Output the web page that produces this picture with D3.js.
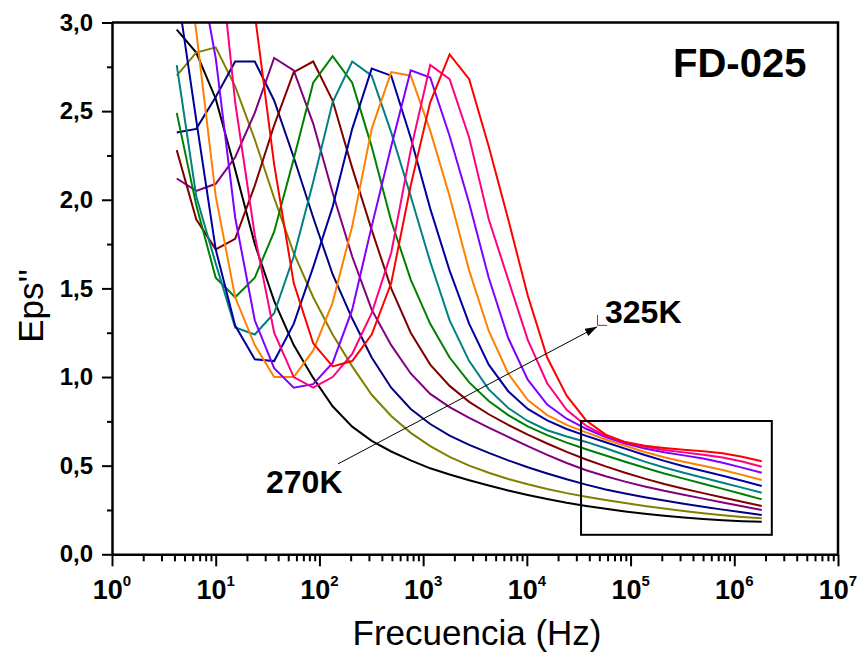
<!DOCTYPE html>
<html>
<head>
<meta charset="utf-8">
<script src="https://cdn.jsdelivr.net/npm/d3@7"></script>
<style>
  body { margin: 0; background: #fff; }
  svg { display: block; }
</style>
</head>
<body>
<svg id="chart" width="860" height="660"></svg>
<script>
// Measurement frequencies (Hz), log-spaced sweep
const freq = [4.21, 6.49, 10.0, 15.4, 23.8, 36.6, 56.5, 87.1, 134, 207, 319, 492, 759,
  1170, 1800, 2780, 4290, 6610, 10200, 15700, 24200, 37300, 57500, 88700, 137000,
  211000, 325000, 501000, 773000, 1190000, 1840000];

// Temperatures and line colours
const temps = ["270K", "275K", "280K", "285K", "290K", "295K", "300K", "305K", "310K", "315K", "320K", "325K"];
const colors = ["#000000", "#808000", "#000080", "#800080", "#800000", "#008000",
  "#008080", "#0000A0", "#FF8000", "#8000FF", "#FF0080", "#FF0000"];

// Dielectric loss Eps'' for each temperature
const eps270 = [2.96, 2.83, 2.57, 2.17, 1.75, 1.43, 1.18, 0.995, 0.835, 0.72, 0.64, 0.58, 0.53, 0.485, 0.45, 0.418, 0.388, 0.36, 0.335, 0.312, 0.291, 0.273, 0.257, 0.242, 0.229, 0.217, 0.207, 0.199, 0.192, 0.187, 0.184];
const eps275 = [2.70, 2.83, 2.86, 2.64, 2.34, 2.01, 1.70, 1.45, 1.24, 1.06, 0.90, 0.78, 0.685, 0.61, 0.55, 0.50, 0.46, 0.425, 0.395, 0.368, 0.345, 0.325, 0.306, 0.289, 0.273, 0.258, 0.244, 0.231, 0.22, 0.211, 0.203];
const eps280 = [2.38, 2.40, 2.58, 2.78, 2.78, 2.56, 2.24, 1.90, 1.58, 1.33, 1.11, 0.94, 0.82, 0.735, 0.67, 0.617, 0.572, 0.53, 0.491, 0.456, 0.423, 0.393, 0.366, 0.343, 0.322, 0.303, 0.285, 0.268, 0.252, 0.237, 0.222];
const eps285 = [2.12, 2.05, 2.09, 2.24, 2.49, 2.80, 2.73, 2.43, 2.04, 1.68, 1.38, 1.18, 1.02, 0.905, 0.83, 0.77, 0.715, 0.662, 0.61, 0.561, 0.515, 0.474, 0.44, 0.41, 0.383, 0.358, 0.336, 0.314, 0.292, 0.271, 0.25];
const eps290 = [2.28, 1.89, 1.72, 1.78, 2.08, 2.42, 2.72, 2.78, 2.56, 2.18, 1.83, 1.50, 1.25, 1.07, 0.95, 0.86, 0.79, 0.73, 0.675, 0.625, 0.578, 0.535, 0.496, 0.46, 0.427, 0.397, 0.37, 0.345, 0.32, 0.296, 0.272];
const eps295 = [2.49, 1.97, 1.56, 1.45, 1.56, 1.82, 2.23, 2.66, 2.81, 2.66, 2.30, 1.88, 1.55, 1.30, 1.11, 0.97, 0.865, 0.785, 0.722, 0.672, 0.63, 0.593, 0.557, 0.522, 0.488, 0.456, 0.427, 0.398, 0.369, 0.34, 0.31];
const eps300 = [2.76, 2.02, 1.64, 1.28, 1.24, 1.36, 1.68, 2.10, 2.55, 2.78, 2.70, 2.38, 2.02, 1.65, 1.32, 1.09, 0.93, 0.825, 0.752, 0.70, 0.665, 0.634, 0.598, 0.56, 0.523, 0.49, 0.46, 0.432, 0.404, 0.376, 0.347];
const eps305 = [3.20, 2.45, 1.72, 1.29, 1.10, 1.09, 1.30, 1.62, 1.96, 2.40, 2.74, 2.70, 2.35, 1.95, 1.60, 1.30, 1.07, 0.92, 0.82, 0.755, 0.707, 0.668, 0.632, 0.596, 0.56, 0.527, 0.497, 0.47, 0.443, 0.415, 0.385];
const eps310 = [3.80, 2.95, 2.02, 1.45, 1.18, 1.00, 1.00, 1.15, 1.42, 1.85, 2.40, 2.72, 2.70, 2.39, 2.02, 1.60, 1.26, 1.02, 0.87, 0.785, 0.73, 0.688, 0.648, 0.612, 0.577, 0.547, 0.522, 0.499, 0.475, 0.448, 0.419];
const eps315 = [4.00, 3.40, 2.80, 1.90, 1.32, 1.05, 0.94, 0.96, 1.08, 1.38, 1.85, 2.30, 2.73, 2.69, 2.36, 1.98, 1.56, 1.22, 0.985, 0.845, 0.765, 0.708, 0.662, 0.625, 0.597, 0.576, 0.558, 0.54, 0.516, 0.489, 0.46];
const eps320 = [5.00, 4.30, 3.60, 2.55, 1.80, 1.25, 1.00, 0.94, 1.00, 1.13, 1.36, 1.70, 2.28, 2.76, 2.68, 2.35, 1.89, 1.55, 1.21, 0.965, 0.815, 0.725, 0.668, 0.632, 0.607, 0.588, 0.575, 0.562, 0.546, 0.523, 0.494];
const eps325 = [6.00, 5.30, 4.60, 3.90, 3.05, 2.20, 1.53, 1.19, 1.06, 1.09, 1.24, 1.53, 2.08, 2.55, 2.82, 2.68, 2.30, 1.89, 1.46, 1.11, 0.895, 0.755, 0.675, 0.633, 0.612, 0.60, 0.59, 0.581, 0.57, 0.55, 0.525];
const series = [eps270, eps275, eps280, eps285, eps290, eps295, eps300, eps305, eps310, eps315, eps320, eps325];

// Axis ticks and labels
const xExponents = [0, 1, 2, 3, 4, 5, 6, 7];
const yTicks = [0, 0.5, 1.0, 1.5, 2.0, 2.5, 3.0];
const yTickLabels = ["0,0", "0,5", "1,0", "1,5", "2,0", "2,5", "3,0"];
const yMinorTicks = [0.25, 0.75, 1.25, 1.75, 2.25, 2.75];

// Annotations (data coordinates)
const arrowFrom = { f: 151, v: 0.51 };
const arrowTo = { f: 47500, v: 1.283 };
const zoomBox = { f0: 33300, f1: 2300000, v0: 0.11, v1: 0.752 };

const svg = d3.select("#chart");
const plot = { left: 112, right: 838, top: 22.5, bottom: 554.3 };
const FONT = "'Liberation Sans', Arial, sans-serif";
const NARROW = "'Liberation Sans Narrow', 'Arial Narrow', 'Liberation Sans', sans-serif";

const x = d3.scaleLog().domain([1, 1e7]).range([plot.left, plot.right]);
const y = d3.scaleLinear().domain([0, 3]).range([plot.bottom, plot.top]);

svg.append("rect").attr("width", 860).attr("height", 660).attr("fill", "#fff");

svg.append("defs").append("clipPath").attr("id", "plotClip")
  .append("rect")
  .attr("x", plot.left).attr("y", plot.top)
  .attr("width", plot.right - plot.left).attr("height", plot.bottom - plot.top);

// Curves
const line = d3.line()
  .x((d, i) => x(freq[i]))
  .y(d => y(d));

svg.append("g").attr("clip-path", "url(#plotClip)")
  .selectAll("path.curve")
  .data(series)
  .join("path")
  .attr("class", "curve")
  .attr("d", line)
  .attr("fill", "none")
  .attr("stroke", (d, i) => colors[i])
  .attr("stroke-width", 2)
  .attr("stroke-linejoin", "miter");

// Zoom box around the high-frequency tails
svg.append("rect")
  .attr("x", x(zoomBox.f0)).attr("y", y(zoomBox.v1))
  .attr("width", x(zoomBox.f1) - x(zoomBox.f0))
  .attr("height", y(zoomBox.v0) - y(zoomBox.v1))
  .attr("fill", "none").attr("stroke", "#000").attr("stroke-width", 2);

// Temperature arrow
svg.append("defs").append("marker")
  .attr("id", "arrowHead")
  .attr("viewBox", "0 0 12 8")
  .attr("refX", 12).attr("refY", 4)
  .attr("markerWidth", 12).attr("markerHeight", 8)
  .attr("markerUnits", "userSpaceOnUse")
  .attr("orient", "auto")
  .append("path").attr("d", "M0,0 L12,4 L0,8 Z").attr("fill", "#000");

svg.append("line")
  .attr("x1", x(arrowFrom.f)).attr("y1", y(arrowFrom.v))
  .attr("x2", x(arrowTo.f)).attr("y2", y(arrowTo.v))
  .attr("stroke", "#000").attr("stroke-width", 1)
  .attr("marker-end", "url(#arrowHead)");

// Small red caret beside the end label
const cx = x(arrowTo.f), cy = y(arrowTo.v);
svg.append("path")
  .attr("d", `M${cx + 0.5},${cy - 12} V${cy - 1.5} H${cx + 10}`)
  .attr("fill", "none").attr("stroke", "#FF0000").attr("stroke-width", 1);

// Bottom axis: minor then major ticks
const xMinor = [];
for (let e = 0; e < 7; e++) for (let m = 2; m <= 9; m++) xMinor.push(m * Math.pow(10, e));
const xMajor = xExponents.map(e => Math.pow(10, e));

const gxMinor = svg.append("g").attr("transform", `translate(0,${plot.bottom})`)
  .call(d3.axisBottom(x).tickValues(xMinor).tickSize(7).tickSizeOuter(0).tickFormat(""));
gxMinor.select(".domain").remove();
const gxMajor = svg.append("g").attr("transform", `translate(0,${plot.bottom})`)
  .call(d3.axisBottom(x).tickValues(xMajor).tickSize(12).tickSizeOuter(0).tickFormat(""));
gxMajor.select(".domain").attr("stroke-width", 2.5);

const xLabels = svg.append("g")
  .attr("font-family", NARROW).attr("font-weight", "bold").attr("fill", "#000");
xExponents.forEach(e => {
  const t = xLabels.append("text")
    .attr("x", x(Math.pow(10, e))).attr("y", 599)
    .attr("text-anchor", "middle").attr("font-size", 27);
  t.append("tspan").text("10");
  t.append("tspan").attr("dy", -13).attr("font-size", 15).text(e);
});

// Left axis
const gyMinor = svg.append("g").attr("transform", `translate(${plot.left},0)`)
  .call(d3.axisLeft(y).tickValues(yMinorTicks).tickSize(5).tickSizeOuter(0).tickFormat(""));
gyMinor.select(".domain").remove();
const gyMajor = svg.append("g").attr("transform", `translate(${plot.left},0)`)
  .call(d3.axisLeft(y).tickValues(yTicks).tickSize(10).tickSizeOuter(0).tickPadding(9)
    .tickFormat((d, i) => yTickLabels[i]));
gyMajor.select(".domain").attr("stroke-width", 2.5);
gyMajor.selectAll("text")
  .attr("font-family", FONT).attr("font-weight", "bold").attr("font-size", 24).attr("fill", "#000");
svg.selectAll(".tick line").attr("stroke", "#000").attr("stroke-width", 2);

// Frame: top and right edges
svg.append("path")
  .attr("d", `M${plot.left},${plot.top} H${plot.right} V${plot.bottom}`)
  .attr("fill", "none").attr("stroke", "#000").attr("stroke-width", 2.5);

// Axis titles
svg.append("text")
  .attr("x", (plot.left + plot.right) / 2 + 2).attr("y", 645)
  .attr("text-anchor", "middle")
  .attr("font-family", FONT).attr("font-size", 35).attr("fill", "#000")
  .text("Frecuencia (Hz)");
svg.append("text")
  .attr("transform", "translate(43,306) rotate(-90)")
  .attr("text-anchor", "middle")
  .attr("font-family", FONT).attr("font-size", 35).attr("fill", "#000")
  .text("Eps''");

// Sample name and temperature labels
svg.append("text")
  .attr("x", 673).attr("y", 77)
  .attr("font-family", FONT).attr("font-weight", "bold").attr("font-size", 40).attr("fill", "#000")
  .text("FD-025");
svg.append("text")
  .attr("x", 266).attr("y", 493)
  .attr("font-family", FONT).attr("font-weight", "bold").attr("font-size", 32).attr("fill", "#000")
  .text(temps[0]);
svg.append("text")
  .attr("x", 605).attr("y", 323)
  .attr("font-family", FONT).attr("font-weight", "bold").attr("font-size", 32).attr("fill", "#000")
  .text(temps[temps.length - 1]);
</script>
</body>
</html>
